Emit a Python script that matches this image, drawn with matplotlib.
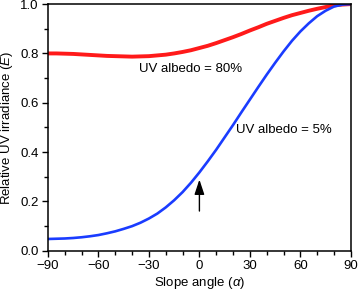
import matplotlib
matplotlib.use('Agg')
import matplotlib.pyplot as plt
from matplotlib.ticker import MultipleLocator

plt.rcParams['font.family'] = ['Liberation Sans', 'DejaVu Sans']
plt.rcParams['mathtext.fontset'] = 'custom'
plt.rcParams['mathtext.it'] = 'Liberation Sans:italic'
plt.rcParams['mathtext.rm'] = 'Liberation Sans'

# slope angle (deg) and relative UV irradiance, every 5 deg
angle = [-90, -85, -80, -75, -70, -65, -60, -55, -50, -45, -40, -35, -30, -25, -20, -15, -10, -5,
         0, 5, 10, 15, 20, 25, 30, 35, 40, 45, 50, 55, 60, 65, 70, 75, 80, 85, 90]
albedo_80 = [0.800, 0.800, 0.799, 0.798, 0.796, 0.794, 0.792, 0.790, 0.789, 0.788, 0.787, 0.788,
             0.789, 0.792, 0.795, 0.800, 0.806, 0.813, 0.822, 0.831, 0.842, 0.854, 0.866, 0.879,
             0.893, 0.906, 0.920, 0.932, 0.944, 0.955, 0.964, 0.973, 0.981, 0.988, 0.995, 0.998, 1.000]
albedo_5 = [0.048, 0.049, 0.050, 0.052, 0.055, 0.059, 0.064, 0.071, 0.079, 0.089, 0.100, 0.114,
            0.131, 0.151, 0.176, 0.205, 0.238, 0.276, 0.318, 0.363, 0.410, 0.460, 0.510, 0.562,
            0.613, 0.664, 0.714, 0.762, 0.808, 0.851, 0.889, 0.922, 0.951, 0.973, 0.990, 0.998, 1.000]

fig = plt.figure(figsize=(3.58, 2.92), dpi=100)
ax = fig.add_axes([0.134, 0.141, 0.846, 0.845])

ax.plot(angle, albedo_80, color='#ff1a1a', lw=2.8, solid_capstyle='butt', solid_joinstyle='round')
ax.plot(angle, albedo_5, color='#1a3cff', lw=1.9, solid_capstyle='butt', solid_joinstyle='round')

ax.text(-36, 0.735, 'UV albedo = 80%', fontsize=9.5, va='center', ha='left')
ax.text(21.5, 0.49, 'UV albedo = 5%', fontsize=9.5, va='center', ha='left')

ax.annotate('', xy=(0, 0.30), xytext=(0, 0.15),
            arrowprops=dict(arrowstyle='-|>,head_length=0.9,head_width=0.3', color='black', lw=1.0))

ax.set_xlim(-90, 90)
ax.set_ylim(0, 1.0)
ax.xaxis.set_minor_locator(MultipleLocator(10))
ax.yaxis.set_minor_locator(MultipleLocator(0.1))
ax.set_xticks([-90, -60, -30, 0, 30, 60, 90])
ax.set_xticklabels(['\u221290', '\u221260', '\u221230', '0', '30', '60', '90'])
ax.set_yticks([0.0, 0.2, 0.4, 0.6, 0.8, 1.0])
ax.set_yticklabels(['0.0', '0.2', '0.4', '0.6', '0.8', '1.0'])

ax.tick_params(which='major', direction='out', length=4.5, width=1.0, labelsize=9.5, pad=2)
ax.tick_params(which='minor', direction='out', length=2.8, width=1.0)
ax.tick_params(top=False, right=False)
for s in ax.spines.values():
    s.set_linewidth(1.1)

ax.set_xlabel(r'Slope angle ($\alpha$)', fontsize=9.5, labelpad=2)
ax.set_ylabel(r'Relative UV irradiance ($E$)', fontsize=9.5, labelpad=4)

fig.savefig('out.png', dpi=100)
